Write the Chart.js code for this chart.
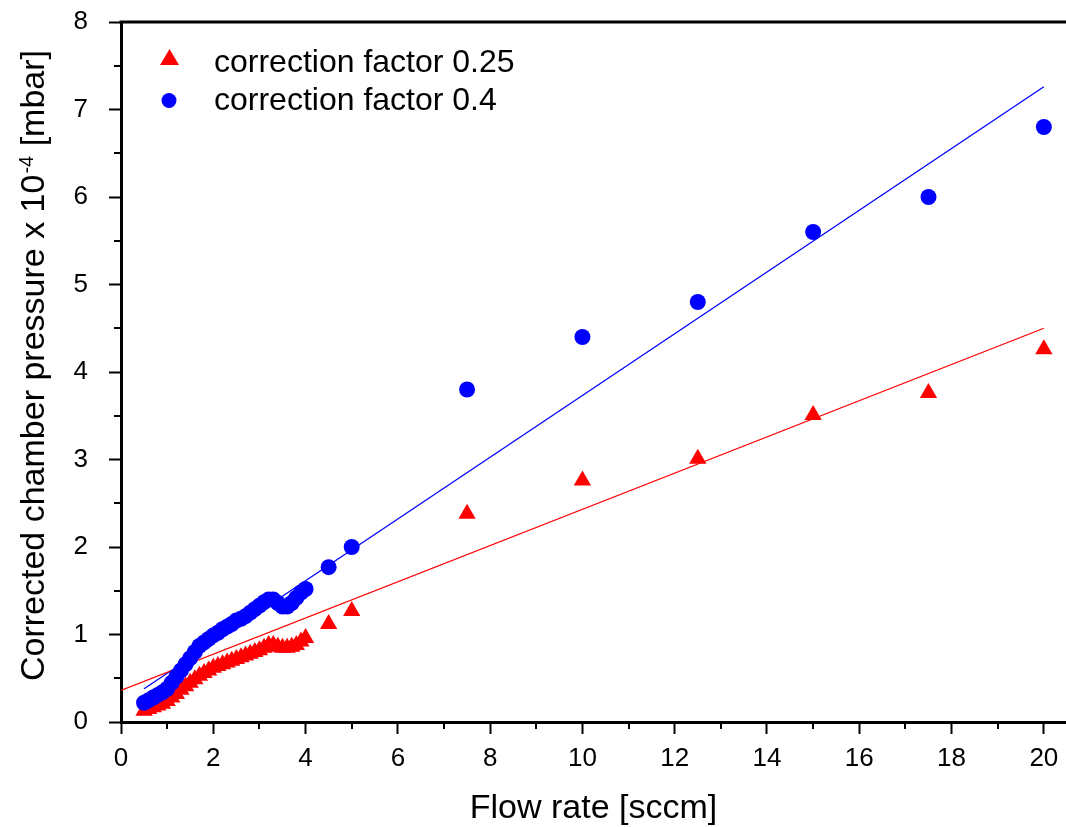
<!DOCTYPE html>
<html>
<head>
<meta charset="utf-8">
<title>Corrected chamber pressure vs flow rate</title>
<script src="https://cdn.jsdelivr.net/npm/chart.js@4.4.0/dist/chart.umd.min.js"></script>
<style>
    html, body { margin: 0; padding: 0; background: #fff; }
</style>
</head>
<body>
<canvas id="pressureChart" width="1066" height="827"></canvas>
<script>
// Flow rates [sccm] - fine sweep and coarse steps
const flowFine = [0.5, 0.6, 0.7, 0.8, 0.9, 1.0, 1.1, 1.2, 1.3, 1.4, 1.5, 1.6,
    1.7, 1.8, 1.9, 2.0, 2.1, 2.2, 2.3, 2.4, 2.5, 2.6, 2.7, 2.8, 2.9, 3.0,
    3.1, 3.2, 3.3, 3.4, 3.5, 3.6, 3.7, 3.8, 3.9, 4.0];
const flowCoarse = [4.5, 5, 7.5, 10, 12.5, 15, 17.5, 20];

// Corrected chamber pressure x 10^-4 [mbar], correction factor 0.25
const pressFine025 = [0.13, 0.15, 0.17, 0.19, 0.21, 0.24, 0.28, 0.32, 0.37, 0.41, 0.45, 0.49,
    0.53, 0.56, 0.59, 0.62, 0.64, 0.66, 0.68, 0.70, 0.72, 0.74, 0.76, 0.78, 0.80, 0.82,
    0.85, 0.88, 0.88, 0.86, 0.85, 0.85, 0.86, 0.88, 0.92, 0.96];
const pressCoarse025 = [1.12, 1.27, 2.38, 2.76, 3.01, 3.51, 3.76, 4.26];

// correction factor 0.4
const pressFine04 = [0.22, 0.25, 0.28, 0.31, 0.34, 0.38, 0.45, 0.52, 0.59, 0.66, 0.73, 0.80,
    0.87, 0.91, 0.95, 0.99, 1.02, 1.06, 1.09, 1.12, 1.16, 1.18, 1.21, 1.25, 1.29, 1.33,
    1.37, 1.40, 1.40, 1.36, 1.32, 1.32, 1.36, 1.42, 1.48, 1.52];
const pressCoarse04 = [1.77, 2.0, 3.8, 4.4, 4.8, 5.6, 6.0, 6.8];

// linear fits (end points)
const fitX025 = [0, 20];
const fitY025 = [0.36, 4.5];
const fitX04 = [0.5, 20];
const fitY04 = [0.38, 7.26];

// labelled (major) ticks
const xLabels = [0, 2, 4, 6, 8, 10, 12, 14, 16, 18, 20];
const yLabels = [0, 1, 2, 3, 4, 5, 6, 7, 8];

const legendNames = ['correction factor 0.25', 'correction factor 0.4'];

const RED = '#ff0000';
const BLUE = '#0000ff';
const FONT = "'Liberation Sans', Arial, sans-serif";

function toPoints(xs, ys) {
    return xs.map((x, i) => ({x: x, y: ys[i]}));
}

const points025 = toPoints(flowFine.concat(flowCoarse), pressFine025.concat(pressCoarse025));
const points04 = toPoints(flowFine.concat(flowCoarse), pressFine04.concat(pressCoarse04));

function isMajor(list, v) {
    return list.some(m => Math.abs(m - v) < 1e-6);
}

// titles, top frame, minor ticks and legend
const decorations = {
    id: 'decorations',
    afterDraw(chart) {
        const ctx = chart.ctx;
        const area = chart.chartArea;
        const xs = chart.scales.x;
        const ys = chart.scales.y;
        ctx.save();

        // top frame line
        ctx.strokeStyle = '#000';
        ctx.lineWidth = 3;
        ctx.beginPath();
        ctx.moveTo(area.left - 1.5, area.top);
        ctx.lineTo(area.right, area.top);
        ctx.stroke();

        // minor ticks
        ctx.lineWidth = 2;
        xs.ticks.forEach(t => {
            if (isMajor(xLabels, t.value)) return;
            const px = Math.round(xs.getPixelForValue(t.value));
            ctx.beginPath();
            ctx.moveTo(px, area.bottom);
            ctx.lineTo(px, area.bottom + 7);
            ctx.stroke();
        });
        ys.ticks.forEach(t => {
            if (isMajor(yLabels, t.value)) return;
            const py = Math.round(ys.getPixelForValue(t.value));
            ctx.beginPath();
            ctx.moveTo(area.left, py);
            ctx.lineTo(area.left - 7, py);
            ctx.stroke();
        });

        // x axis title
        ctx.fillStyle = '#000';
        ctx.font = '34px ' + FONT;
        ctx.textAlign = 'center';
        ctx.textBaseline = 'alphabetic';
        ctx.fillText('Flow rate [sccm]', (area.left + area.right) / 2, 818);

        // y axis title with superscript
        const partA = 'Corrected chamber pressure x 10';
        const sup = '-4';
        const partB = ' [mbar]';
        ctx.font = '34px ' + FONT;
        const wA = ctx.measureText(partA).width;
        const wB = ctx.measureText(partB).width;
        ctx.font = '20px ' + FONT;
        const wS = ctx.measureText(sup).width;
        const total = wA + wS + wB;
        ctx.translate(44, 366);
        ctx.rotate(-Math.PI / 2);
        ctx.textAlign = 'left';
        let pos = -total / 2;
        ctx.font = '34px ' + FONT;
        ctx.fillText(partA, pos, 0);
        pos += wA + 1;
        ctx.font = '20px ' + FONT;
        ctx.fillText(sup, pos, -11);
        pos += wS;
        ctx.font = '34px ' + FONT;
        ctx.fillText(partB, pos, 0);
        ctx.setTransform(1, 0, 0, 1, 0, 0);

        // legend
        ctx.font = '32px ' + FONT;
        ctx.textAlign = 'left';
        ctx.textBaseline = 'alphabetic';
        ctx.fillStyle = RED;
        ctx.beginPath();
        ctx.moveTo(169.5, 49);
        ctx.lineTo(179, 65);
        ctx.lineTo(160, 65);
        ctx.closePath();
        ctx.fill();
        ctx.fillStyle = BLUE;
        ctx.beginPath();
        ctx.arc(169, 100.5, 7.5, 0, Math.PI * 2);
        ctx.fill();
        ctx.fillStyle = '#000';
        ctx.fillText(legendNames[0], 214, 72);
        ctx.fillText(legendNames[1], 214, 110);

        ctx.restore();
    }
};

const ctx = document.getElementById('pressureChart').getContext('2d');
window.pressureChart = new Chart(ctx, {
    type: 'scatter',
    data: {
        datasets: [
            {
                label: legendNames[1],
                data: points04,
                pointStyle: 'circle',
                pointRadius: 8,
                pointBackgroundColor: BLUE,
                pointBorderWidth: 0,
                borderColor: BLUE
            },
            {
                label: legendNames[0],
                data: points025,
                pointStyle: 'triangle',
                pointRadius: 10,
                pointBackgroundColor: RED,
                pointBorderWidth: 0,
                borderColor: RED
            },
            {
                label: 'fit 0.25',
                data: toPoints(fitX025, fitY025),
                showLine: true,
                borderColor: RED,
                borderWidth: 1.3,
                pointRadius: 0
            },
            {
                label: 'fit 0.4',
                data: toPoints(fitX04, fitY04),
                showLine: true,
                borderColor: BLUE,
                borderWidth: 1.3,
                pointRadius: 0
            }
        ]
    },
    options: {
        responsive: false,
        animation: false,
        events: [],
        layout: {
            autoPadding: false,
            padding: {top: 22, right: 0, left: 0, bottom: 0}
        },
        plugins: {
            legend: {display: false},
            tooltip: {enabled: false}
        },
        scales: {
            x: {
                type: 'linear',
                min: 0,
                max: 20.48,
                afterFit: function (scale) {
                    scale.height = 105;
                    scale.paddingLeft = 0;
                    scale.paddingRight = 0;
                },
                ticks: {
                    stepSize: 1,
                    includeBounds: false,
                    autoSkip: false,
                    maxRotation: 0,
                    padding: 9,
                    color: '#000',
                    font: {family: FONT, size: 26},
                    callback: v => isMajor(xLabels, v) ? String(v) : ''
                },
                grid: {
                    drawOnChartArea: false,
                    tickLength: 12,
                    tickWidth: 2,
                    tickColor: c => (c.tick && isMajor(xLabels, c.tick.value)) ? '#000' : 'rgba(0,0,0,0)'
                },
                border: {display: true, color: '#000', width: 3}
            },
            y: {
                type: 'linear',
                min: 0,
                max: 8,
                afterFit: function (scale) {
                    scale.width = 121;
                    scale.paddingTop = 0;
                    scale.paddingBottom = 0;
                },
                ticks: {
                    stepSize: 0.5,
                    includeBounds: false,
                    autoSkip: false,
                    padding: 21,
                    color: '#000',
                    font: {family: FONT, size: 26},
                    callback: v => isMajor(yLabels, v) ? String(v) : ''
                },
                grid: {
                    drawOnChartArea: false,
                    tickLength: 12,
                    tickWidth: 2,
                    tickColor: c => (c.tick && isMajor(yLabels, c.tick.value)) ? '#000' : 'rgba(0,0,0,0)'
                },
                border: {display: true, color: '#000', width: 3}
            }
        }
    },
    plugins: [decorations]
});
</script>
</body>
</html>
